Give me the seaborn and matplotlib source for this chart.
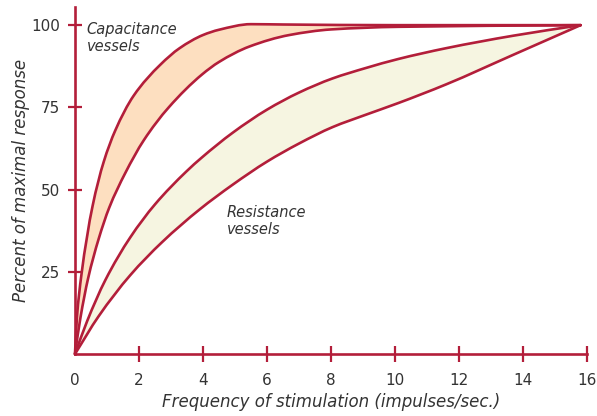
import numpy as np
import matplotlib
matplotlib.use("Agg")
import matplotlib.pyplot as plt
from matplotlib.path import Path
from matplotlib.patches import PathPatch
import seaborn as sns

# values
cap_upper_x = [0, 0.06, 0.2, 0.55, 0.9, 1.26, 1.83, 2.67, 3.27, 4.0, 4.5, 5.5, 6.5, 10, 15.8]
cap_upper_y = [0, 11, 24, 45, 58.5, 68, 78.5, 88, 93, 97, 98.6, 100.3, 100.2, 100, 100]
cap_lower_x = [0, 0.17, 0.41, 0.74, 1.07, 1.57, 2.15, 2.93, 3.97, 4.5, 5.45, 6.7, 8, 10.1, 15.8]
cap_lower_y = [0, 11, 23, 35, 44.5, 55, 65, 75, 85, 88.8, 93.5, 97, 98.7, 99.5, 100]
res_upper_x = [0, 0.38, 0.95, 1.73, 2.5, 3.48, 3.97, 4.93, 6.0, 7.0, 8.05, 9.1, 10.1, 11.6, 13.7, 15.8]
res_upper_y = [0, 10, 22.5, 35.5, 45.5, 55.5, 59.8, 67.3, 74.3, 79.5, 83.8, 87, 89.7, 93, 96.8, 100]
res_lower_x = [0, 0.74, 1.73, 2.72, 3.9, 4.93, 6.0, 7.0, 8.05, 9.1, 10.1, 11.6, 13.7, 15.8]
res_lower_y = [0, 11.5, 24, 34, 44, 51.5, 58.5, 64, 69, 72.8, 76.3, 82, 91, 100]

x_ticks = [0, 2, 4, 6, 8, 10, 12, 14, 16]
y_ticks = [25, 50, 75, 100]

red = "#B31E3A"
txt = "#333333"
peach = "#FDDFC0"
cream = "#F6F5E1"


def tangents(x, y):
    # monotone (Fritsch-Carlson) slopes, only used for bezier control points
    x = np.asarray(x, float)
    y = np.asarray(y, float)
    h = np.diff(x)
    d = np.diff(y) / h
    m = np.zeros_like(x)
    m[0], m[-1] = d[0], d[-1]
    for i in range(1, len(x) - 1):
        if d[i - 1] * d[i] <= 0:
            m[i] = 0
        else:
            w1 = 2 * h[i] + h[i - 1]
            w2 = h[i] + 2 * h[i - 1]
            m[i] = (w1 + w2) / (w1 / d[i - 1] + w2 / d[i])
    return m


def bezier(x, y):
    # vertices/codes of a smooth curve through the points
    m = tangents(x, y)
    verts = [(x[0], y[0])]
    codes = [Path.MOVETO]
    for i in range(len(x) - 1):
        h = x[i + 1] - x[i]
        verts += [(x[i] + h / 3, y[i] + m[i] * h / 3),
                  (x[i + 1] - h / 3, y[i + 1] - m[i + 1] * h / 3),
                  (x[i + 1], y[i + 1])]
        codes += [Path.CURVE4] * 3
    return verts, codes


def band(xu, yu, xl, yl):
    vu, cu = bezier(xu, yu)
    vl, cl = bezier(xl[::-1], yl[::-1])
    cl[0] = Path.LINETO
    return Path(vu + vl + [vu[0]], cu + cl + [Path.CLOSEPOLY])


sns.set_style("white")
plt.rcParams["font.family"] = ["DejaVu Sans"]

fig = plt.figure(figsize=(5.97, 4.16), dpi=100)
ax = fig.add_axes([0.1256, 0.149, 0.8576, 0.834])

ax.add_patch(PathPatch(band(cap_upper_x, cap_upper_y, cap_lower_x, cap_lower_y),
                       facecolor=peach, lw=0, zorder=1))
ax.add_patch(PathPatch(band(res_upper_x, res_upper_y, res_lower_x, res_lower_y),
                       facecolor=cream, lw=0, zorder=1))

curves = [(cap_upper_x, cap_upper_y), (cap_lower_x, cap_lower_y),
          (res_upper_x, res_upper_y), (res_lower_x, res_lower_y)]
for cx, cy in curves:
    v, c = bezier(cx, cy)
    ax.add_patch(PathPatch(Path(v, c), facecolor="none", edgecolor=red,
                           lw=1.9, zorder=3, clip_on=False,
                           capstyle="round", joinstyle="round"))

ax.set_xlim(0, 16)
ax.set_ylim(0, 105.5)

for s in ["top", "right"]:
    ax.spines[s].set_visible(False)
for s in ["left", "bottom"]:
    ax.spines[s].set_color(red)
    ax.spines[s].set_linewidth(1.9)
    ax.spines[s].set_zorder(4)

ax.set_xticks(x_ticks)
ax.set_xticklabels([str(v) for v in x_ticks])
ax.set_yticks(y_ticks)
ax.set_yticklabels([str(v) for v in y_ticks])
ax.tick_params(axis="x", bottom=True, direction="inout", length=11, width=1.6,
               color=red, labelsize=11, labelcolor=txt, pad=8)
ax.tick_params(axis="y", left=True, direction="inout", length=9.4, width=1.6,
               color=red, labelsize=11, labelcolor=txt, pad=6)
ax.xaxis.get_major_ticks()[0].tick1line.set_visible(False)
ax.set_xticks([0], minor=True)
ax.tick_params(axis="x", which="minor", bottom=True, direction="out",
               length=5.5, width=1.6, color=txt)

ax.set_xlabel("Frequency of stimulation (impulses/sec.)", fontsize=12,
              style="italic", color=txt, labelpad=4)
ax.set_ylabel("Percent of maximal response", fontsize=12, style="italic",
              color=txt, labelpad=1)

ax.text(0.37, 101, "Capacitance\nvessels", fontsize=10.5, style="italic",
        color=txt, va="top", ha="left", linespacing=1.15)
ax.text(4.75, 45.2, "Resistance\nvessels", fontsize=10.5, style="italic",
        color=txt, va="top", ha="left", linespacing=1.15)

fig.savefig("out.png", dpi=100)
